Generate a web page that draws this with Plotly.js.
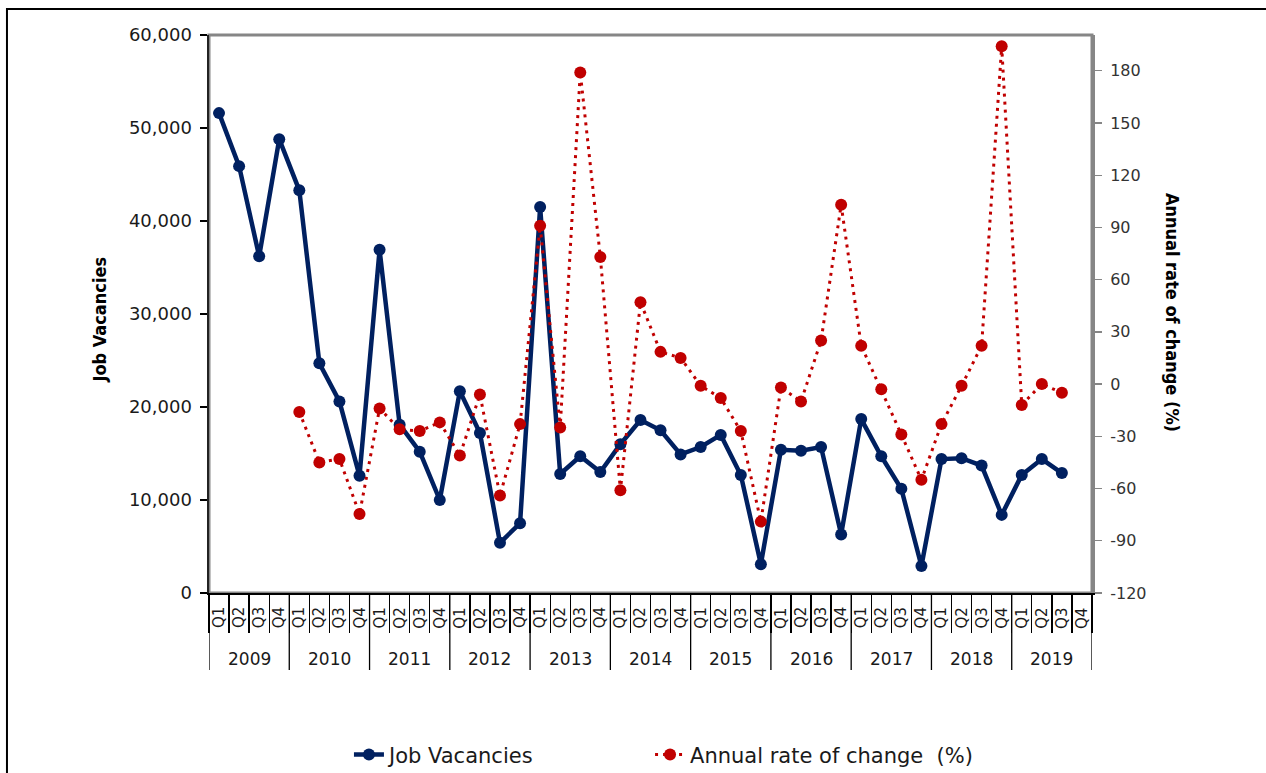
<!DOCTYPE html>
<html>
<head>
<meta charset="utf-8">
<script src="https://cdn.plot.ly/plotly-3.0.1.min.js"></script>
<style>html,body{margin:0;padding:0;background:#fff;}#chart{width:1266px;height:773px;}</style>
</head>
<body>
<div id="chart"></div>
<script>
// ---- data ----
const years = ["2009","2010","2011","2012","2013","2014","2015","2016","2017","2018","2019"];
const quarters = ["Q1","Q2","Q3","Q4"];
const jobVacancies = [
  51600, 45900, 36200, 48800,
  43300, 24700, 20600, 12600,
  36900, 18100, 15200, 10000,
  21700, 17200, 5400, 7500,
  41500, 12800, 14700, 13000,
  16000, 18600, 17500, 14900,
  15700, 17000, 12700, 3100,
  15400, 15300, 15700, 6300,
  18700, 14700, 11200, 2900,
  14400, 14500, 13700, 8400,
  12700, 14400, 12900, null
];
const annualRate = [
  null, null, null, null,
  -16, -45, -43, -74.6,
  -14, -26, -27, -22,
  -41, -6, -64, -23,
  91, -25, 179, 73,
  -61, 47, 18.5, 15,
  -1, -8, -27, -79,
  -2, -10, 25, 103,
  22, -3, -29, -55,
  -23, -1, 22, 194,
  -12, 0, -5, null
];
const leftTicks = [0, 10000, 20000, 30000, 40000, 50000, 60000];
const rightTicks = [-120, -90, -60, -30, 0, 30, 60, 90, 120, 150, 180];

// ---- derived ----
const nCat = years.length * quarters.length;
const xIdx = Array.from({length: nCat}, (_, i) => i);
const boundaries = Array.from({length: nCat + 1}, (_, i) => i - 0.5);

const navy = "#002060";
const red = "#C00000";
const tickFont = {family: "DejaVu Sans", size: 18, color: "#1a1a1a"};
const legendFont = {family: "DejaVu Sans", size: 21, color: "#1a1a1a"};

const traces = [
  {
    x: xIdx, y: jobVacancies, name: "Job Vacancies", type: "scatter", mode: "lines+markers",
    line: {color: navy, width: 4.5}, marker: {color: navy, size: 12},
    yaxis: "y", cliponaxis: false, connectgaps: false, legend: "legend"
  },
  {
    x: xIdx, y: annualRate, name: "Annual rate of change  (%)", type: "scatter", mode: "lines+markers",
    line: {color: red, width: 3, dash: "3px,5px"}, marker: {color: red, size: 12},
    yaxis: "y2", cliponaxis: false, connectgaps: false, legend: "legend2"
  }
];

const annotations = [];
xIdx.forEach(i => {
  annotations.push({
    x: i, xref: "x", y: -0.0448, yref: "paper",
    text: quarters[i % quarters.length], showarrow: false, textangle: -90,
    xanchor: "center", yanchor: "middle",
    font: {family: "DejaVu Sans", size: 15, color: "#1a1a1a"}
  });
});
years.forEach((yr, k) => {
  annotations.push({
    x: k * quarters.length + (quarters.length - 1) / 2, xref: "x", y: -0.118, yref: "paper",
    text: yr, showarrow: false, xanchor: "center", yanchor: "middle",
    font: {family: "DejaVu Sans", size: 17, color: "#1a1a1a"}
  });
});
annotations.push({
  x: -0.1234, xref: "paper", y: 0.49, yref: "paper", text: "<b>Job Vacancies</b>",
  showarrow: false, textangle: -90, xanchor: "center", yanchor: "middle",
  font: {family: "DejaVu Sans Condensed", size: 18, color: "#000"}
});
annotations.push({
  x: 1.0906, xref: "paper", y: 0.502, yref: "paper", text: "<b>Annual rate of change (%)</b>",
  showarrow: false, textangle: 90, xanchor: "center", yanchor: "middle",
  font: {family: "DejaVu Sans Condensed", size: 18, color: "#000"}
});

const shapes = [];
shapes.push({type: "rect", xref: "paper", yref: "paper", x0: 0, x1: 1, y0: 0, y1: 1,
  line: {color: "#868686", width: 3}, layer: "below"});
shapes.push({type: "rect", xref: "paper", yref: "paper", x0: -0.2288, x1: 1.25, y0: -0.40, y1: 1.0466,
  line: {color: "#000", width: 2}, layer: "below"});
for (let k = 0; k <= years.length; k++) {
  const xb = k * quarters.length - 0.5;
  shapes.push({type: "line", xref: "x", yref: "paper", x0: xb, x1: xb, y0: 0, y1: -0.138,
    line: {color: "#000", width: 1.3}});
}

const layout = {
  width: 1266, height: 773,
  margin: {l: 209, r: 174, t: 35, b: 180, autoexpand: false},
  paper_bgcolor: "#fff", plot_bgcolor: "#fff",
  showlegend: true,
  legend: {
    orientation: "h", x: 0.1585, xanchor: "left", y: -0.290, yanchor: "middle",
    font: legendFont, bgcolor: "rgba(0,0,0,0)"
  },
  legend2: {
    orientation: "h", x: 0.4995, xanchor: "left", y: -0.290, yanchor: "middle",
    font: legendFont, bgcolor: "rgba(0,0,0,0)"
  },
  xaxis: {
    range: [-0.5, nCat - 0.5], showgrid: false, zeroline: false,
    tickmode: "array", tickvals: boundaries, ticks: "outside", ticklen: 38, tickwidth: 1.3,
    tickcolor: "#000", showticklabels: false,
    showline: true, linecolor: "#000", linewidth: 2
  },
  yaxis: {
    range: [0, 60000], tickmode: "array", tickvals: leftTicks,
    ticktext: leftTicks.map(v => v.toLocaleString("en-US")),
    showgrid: false, zeroline: false, ticks: "outside", ticklen: 7, tickcolor: "#000", tickwidth: 1.3,
    showline: true, linecolor: "#222", linewidth: 2.5, tickfont: tickFont, ticklabelstandoff: 4
  },
  yaxis2: {
    range: [-120, 200.5], overlaying: "y", side: "right", tickmode: "array", tickvals: rightTicks,
    ticktext: rightTicks.map(v => String(v)),
    showgrid: false, zeroline: false, ticks: "outside", ticklen: 7, tickcolor: "#868686", tickwidth: 1.3,
    showline: true, linecolor: "#868686", linewidth: 3,
    tickfont: {family: "DejaVu Sans", size: 16, color: "#333"}, ticklabelstandoff: 5
  },
  annotations: annotations,
  shapes: shapes
};

Plotly.newPlot("chart", traces, layout, {displayModeBar: false, staticPlot: true});
</script>
</body>
</html>
